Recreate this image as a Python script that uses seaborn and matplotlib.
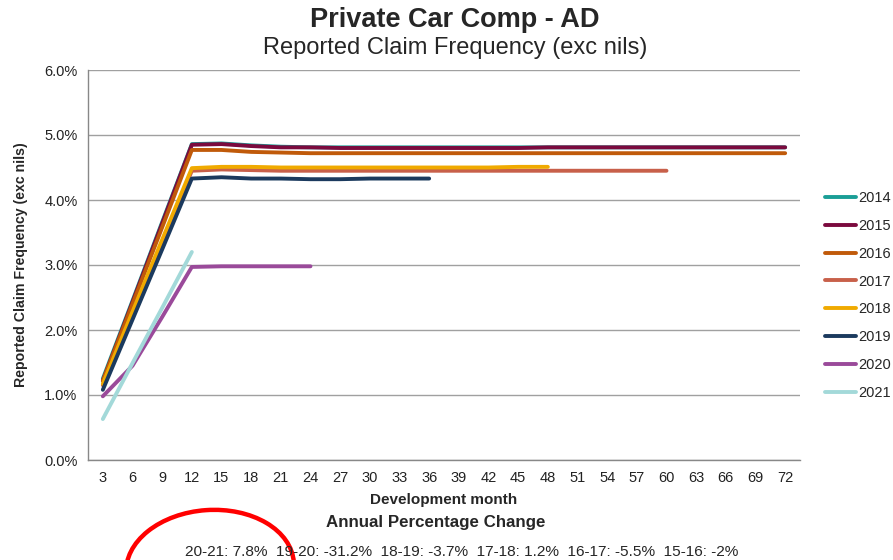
import numpy as np
import pandas as pd
import matplotlib
matplotlib.use("Agg")
import matplotlib.pyplot as plt
import seaborn as sns
from matplotlib.patches import Ellipse
from matplotlib.ticker import FixedLocator, FuncFormatter

sns.set_theme(style="white")
plt.rcParams['font.family'] = ['Liberation Sans', 'DejaVu Sans']

# Data (claim frequency in %)
months = [3, 6, 9, 12, 15, 18, 21, 24, 27, 30, 33, 36, 39, 42, 45, 48, 51, 54, 57, 60, 63, 66, 69, 72]
years = ['2014', '2015', '2016', '2017', '2018', '2019', '2020', '2021']

freq_2014 = [1.25, 2.45, 3.66, 4.86, 4.87, 4.84, 4.82, 4.81, 4.81, 4.81, 4.81, 4.81,
             4.81, 4.81, 4.81, 4.81, 4.81, 4.81, 4.81, 4.81, 4.81, 4.81, 4.81, 4.81]
freq_2015 = [1.22, 2.43, 3.64, 4.85, 4.86, 4.83, 4.81, 4.81, 4.80, 4.80, 4.80, 4.80,
             4.80, 4.80, 4.80, 4.81, 4.81, 4.81, 4.81, 4.81, 4.81, 4.81, 4.81, 4.81]
freq_2016 = [1.22, 2.40, 3.58, 4.77, 4.77, 4.74, 4.73, 4.72, 4.72, 4.72, 4.72, 4.72,
             4.72, 4.72, 4.72, 4.72, 4.72, 4.72, 4.72, 4.72, 4.72, 4.72, 4.72, 4.72]
freq_2017 = [1.15, 2.25, 3.35, 4.45, 4.47, 4.46, 4.45, 4.45, 4.45, 4.45, 4.45, 4.45,
             4.45, 4.45, 4.45, 4.45, 4.45, 4.45, 4.45, 4.45]
freq_2018 = [1.17, 2.28, 3.39, 4.49, 4.51, 4.51, 4.50, 4.50, 4.50, 4.50, 4.50, 4.50,
             4.50, 4.50, 4.51, 4.51]
freq_2019 = [1.08, 2.16, 3.24, 4.33, 4.35, 4.33, 4.33, 4.32, 4.32, 4.33, 4.33, 4.33]
freq_2020 = [0.98, 1.45, 2.20, 2.97, 2.98, 2.98, 2.98, 2.98]
freq_2021 = [0.63, 1.49, 2.34, 3.20]

series = [freq_2014, freq_2015, freq_2016, freq_2017, freq_2018, freq_2019, freq_2020, freq_2021]
colors = ['#1a9e96', '#7b0a3e', '#c05a0a', '#c8604a', '#f0aa00', '#1b3a5e', '#9a4a9a', '#a3d9d9']

changes = "20-21: 7.8%  19-20: -31.2%  18-19: -3.7%  17-18: 1.2%  16-17: -5.5%  15-16: -2%"

rows = []
for yr, vals in zip(years, series):
    for i, v in enumerate(vals):
        rows.append({'Year': yr, 'pos': i, 'Month': months[i], 'Freq': v})
df = pd.DataFrame(rows)

fig = plt.figure(figsize=(8.93, 5.6), dpi=100)
ax = fig.add_axes([88 / 893, 1 - 460 / 560, 712 / 893, 390 / 560])

sns.lineplot(data=df, x='pos', y='Freq', hue='Year', palette=dict(zip(years, colors)),
             linewidth=2.8, ax=ax, legend=True, estimator=None)

ax.set_xlim(-0.5, len(months) - 0.5)
ax.set_ylim(0, 6)
ax.yaxis.set_major_locator(FixedLocator([0, 1, 2, 3, 4, 5, 6]))
ax.yaxis.set_major_formatter(FuncFormatter(lambda v, p: f'{v:.1f}%'))
ax.set_xticks(range(len(months)))
ax.set_xticklabels([str(m) for m in months])
ax.set_xticks(np.arange(-0.5, len(months), 1), minor=True)
ax.tick_params(axis='x', which='major', length=0, labelsize=10.5, pad=8, colors='#222222')
ax.tick_params(axis='x', which='minor', length=4, color='#888888', direction='out')
ax.tick_params(axis='y', length=4, color='#888888', labelsize=10.5, direction='out',
               labelcolor='#222222')

ax.grid(True, axis='y', color='#a0a0a0', linewidth=1)
ax.set_axisbelow(True)
for s in ['top', 'right']:
    ax.spines[s].set_visible(False)
for s in ['left', 'bottom']:
    ax.spines[s].set_color('#888888')
    ax.spines[s].set_linewidth(1)

ax.set_xlabel('Development month', fontsize=11, fontweight='bold', labelpad=6)
ax.set_ylabel('Reported Claim Frequency (exc nils)', fontsize=10.2, fontweight='bold', labelpad=12)

handles, labels = ax.get_legend_handles_labels()
ax.get_legend().remove()
leg = fig.legend(handles, labels, loc='upper left', bbox_to_anchor=(825 / 893, 1 - 191 / 560),
                 frameon=False, fontsize=10.5, handlelength=2.1, handletextpad=0.2,
                 labelspacing=0.95, borderaxespad=0, borderpad=0)
for line in leg.get_lines():
    line.set_linewidth(2.8)

fig.text(455 / 893, 1 - 20 / 560, 'Private Car Comp - AD', ha='center', va='center',
         fontsize=19.5, fontweight='bold')
fig.text(455 / 893, 1 - 48 / 560, 'Reported Claim Frequency (exc nils)', ha='center', va='center',
         fontsize=17)
fig.text(436 / 893, 1 - 523 / 560, 'Annual Percentage Change', ha='center', va='center',
         fontsize=12.2, fontweight='bold')
fig.text(462 / 893, 1 - 552 / 560, changes, ha='center', va='center', fontsize=11.1)

ell = Ellipse((210, 560 - 568), 168, 116, angle=4, fill=False, edgecolor='#ff0000',
              linewidth=3.2, transform=None)
fig.patches.append(ell)

fig.savefig('out.png', dpi=100)
